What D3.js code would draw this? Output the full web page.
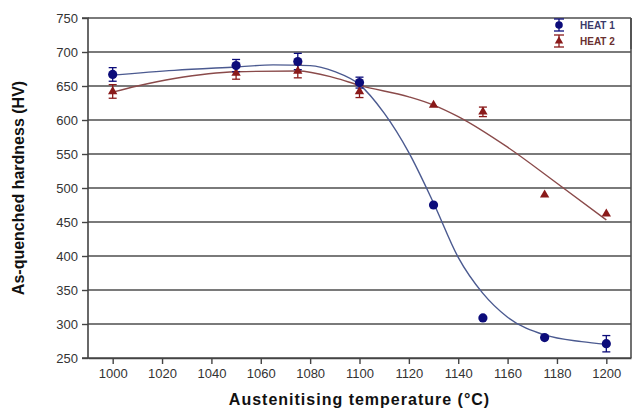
<!DOCTYPE html>
<html><head><meta charset="utf-8">
<script src="https://cdn.jsdelivr.net/npm/d3@7"></script>
<style>body{margin:0;background:#fff}svg{display:block}</style>
</head><body>
<svg id="c" width="636" height="417"></svg>
<script>
const xTicks = [1000,1020,1040,1060,1080,1100,1120,1140,1160,1180,1200];
const yTicks = [250,300,350,400,450,500,550,600,650,700,750];
const temps1 = [1000,1050,1075,1100,1130,1150,1175,1200];
const heat1 = [667,680,686,655,475,309,280,271];
const heat1Err = [10,9,12,8,0,0,0,12];
const temps2 = [1000,1050,1075,1100,1130,1150,1175,1200];
const heat2 = [642,669,672,642,622,612,490,462];
const heat2Err = [10,9,10,9,0,7,0,0];
const fit1X = [1000,1025,1050,1065,1080,1090,1100,1110,1120,1130,1140,1150,1160,1175,1190,1200];
const fit1Y = [666,673,678,681,680,671,652,610,552,478,398,345,310,284,274,270];
const fit2X = [1000,1010,1025,1050,1075,1090,1100,1120,1130,1140,1160,1180,1200];
const fit2Y = [641,650,661,671,672,662,651,634,622,605,560,507,453];
const seriesNames = ["HEAT 1","HEAT 2"];

const svg = d3.select("#c");
const L=88,R=631,T=18,B=358;
const x = d3.scaleLinear().domain([990,1210]).range([L,R]);
const y = d3.scaleLinear().domain([250,750]).range([B,T]);
const blue="#0c0c7a", red="#8a1a1a";
const FF="Liberation Sans, Arial, sans-serif";

svg.append("g").selectAll("line").data(yTicks).join("line")
  .attr("x1",L).attr("x2",R).attr("y1",d=>y(d)).attr("y2",d=>y(d))
  .attr("stroke","#4e4e4e").attr("stroke-width",1.6);
svg.append("line").attr("x1",R).attr("x2",R).attr("y1",T).attr("y2",B).attr("stroke","#4e4e4e").attr("stroke-width",1.6);

const yAx = svg.append("g").attr("transform",`translate(${L},0)`)
  .call(d3.axisLeft(y).tickValues(yTicks).tickFormat(d3.format("d")).tickSize(6).tickPadding(4));
const xAx = svg.append("g").attr("transform",`translate(0,${B})`)
  .call(d3.axisBottom(x).tickValues(xTicks).tickFormat(d3.format("d")).tickSize(6).tickPadding(5).tickSizeOuter(0));
[yAx,xAx].forEach(a=>{
  a.select(".domain").attr("stroke","#444").attr("stroke-width",1.6);
  a.selectAll(".tick line").attr("stroke","#444").attr("stroke-width",1.4);
  a.selectAll("text").attr("fill","#333").attr("font-family",FF).attr("font-size",13);
});
yAx.select(".domain").attr("d",`M-6,${T}H0V${B}H-6`);

const line = d3.line().curve(d3.curveMonotoneX);
svg.append("path").attr("d",line(fit1X.map((v,i)=>[x(v),y(fit1Y[i])])))
  .attr("fill","none").attr("stroke","#4b5a90").attr("stroke-width",1.4);
svg.append("path").attr("d",line(fit2X.map((v,i)=>[x(v),y(fit2Y[i])])))
  .attr("fill","none").attr("stroke","#8a4a4a").attr("stroke-width",1.4);

function errBars(xs,vs,es,col){
  const g=svg.append("g");
  xs.forEach((t,i)=>{
    if(!es[i]) return;
    const cx=x(t), y1=y(vs[i]+es[i]), y2=y(vs[i]-es[i]);
    g.append("line").attr("x1",cx).attr("x2",cx).attr("y1",y1).attr("y2",y2).attr("stroke",col).attr("stroke-width",1.3);
    [y1,y2].forEach(yy=>g.append("line").attr("x1",cx-4).attr("x2",cx+4).attr("y1",yy).attr("y2",yy).attr("stroke",col).attr("stroke-width",1.3));
  });
}
errBars(temps2,heat2,heat2Err,red);
errBars(temps1,heat1,heat1Err,blue);
const tri = d3.symbol().type(d3.symbolTriangle).size(38);
svg.append("g").selectAll("path").data(temps2).join("path")
  .attr("d",tri).attr("transform",(d,i)=>`translate(${x(d)},${y(heat2[i])})`).attr("fill",red);
svg.append("g").selectAll("circle").data(temps1).join("circle")
  .attr("cx",d=>x(d)).attr("cy",(d,i)=>y(heat1[i])).attr("r",4.6).attr("fill",blue);

const lg = svg.append("g").attr("transform","translate(559,0)");
lg.append("rect").attr("x",-14).attr("y",T+1).attr("width",R-559+13).attr("height",30).attr("fill","#fff");
[[25,blue,"circle"],[41,red,"tri"]].forEach(([yy,col,k],i)=>{
  lg.append("line").attr("x1",0).attr("x2",0).attr("y1",yy-6).attr("y2",yy+6).attr("stroke",col).attr("stroke-width",1.3);
  lg.append("line").attr("x1",-5).attr("x2",5).attr("y1",yy-6).attr("y2",yy-6).attr("stroke",col).attr("stroke-width",1.3);
  lg.append("line").attr("x1",-5).attr("x2",5).attr("y1",yy+6).attr("y2",yy+6).attr("stroke",col).attr("stroke-width",1.3);
  if(k==="circle") lg.append("circle").attr("r",3.8).attr("cy",yy).attr("fill",col);
  else lg.append("path").attr("d",d3.symbol().type(d3.symbolTriangle).size(30)).attr("transform",`translate(0,${yy})`).attr("fill",col);
  lg.append("text").attr("x",21).attr("y",yy+3.5).text(seriesNames[i])
    .attr("font-family",FF).attr("font-size",10).attr("font-weight","bold")
    .attr("fill",i===0?"#3a3a6a":"#6a3030");
});
svg.append("line").attr("x1",R).attr("x2",R).attr("y1",T).attr("y2",T+31).attr("stroke","#4e4e4e").attr("stroke-width",1.6);

svg.append("text").attr("x",(L+R)/2).attr("y",405).attr("text-anchor","middle")
  .attr("font-family",FF).attr("font-weight","bold").attr("font-size",16)
  .attr("letter-spacing",1).attr("fill","#111").text("Austenitising temperature (°C)");
svg.append("text").attr("transform",`translate(24,${(T+B)/2}) rotate(-90)`).attr("text-anchor","middle")
  .attr("font-family",FF).attr("font-weight","bold").attr("font-size",16)
  .attr("fill","#111").text("As-quenched hardness (HV)");
</script>
</body></html>
